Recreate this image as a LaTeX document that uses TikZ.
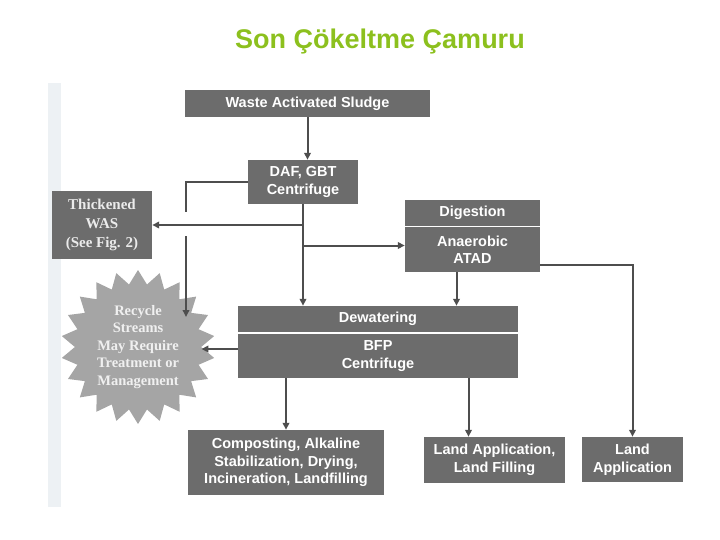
\documentclass[tikz,border=0pt]{standalone}
\usepackage{fontspec}
\setmainfont{Liberation Serif}
\setsansfont{Liberation Sans}
\usepackage{tikz}
\usetikzlibrary{calc,shapes,arrows.meta,positioning}
\definecolor{boxgray}{RGB}{108,108,108}
\definecolor{stargray}{RGB}{165,165,165}
\definecolor{linegray}{RGB}{78,78,78}
\definecolor{titlegreen}{RGB}{140,192,30}
\definecolor{scanstrip}{RGB}{237,241,244}
\tikzset{%
    box/.style={%
        rectangle, fill=boxgray, text=white, align=center, inner sep=0pt,
        font=\sffamily\bfseries\fontsize{14.5}{17.5}\selectfont
    },
    serifbox/.style={%
        rectangle, fill=boxgray, text=white!92!black, align=center, inner sep=0pt,
        font=\rmfamily\bfseries\fontsize{15}{19}\selectfont
    },
    burst/.style={%
        star, star points=22, star point ratio=1.22, fill=stargray, minimum size=154pt,
        inner sep=0pt, text=white!94!black, align=center,
        font=\rmfamily\bfseries\fontsize{14.5}{17.5}\selectfont
    },
    link/.style={%
        draw=linegray, line width=2pt
    },
    flow/.style={%
        draw=linegray, line width=2pt, -{Triangle[length=7pt,width=6.5pt]}
    },
}
\begin{document}
\begin{tikzpicture}[x=1pt,y=-1pt]

    \useasboundingbox (0,0) rectangle (720,540);
    \fill[scanstrip] (48,83) rectangle (61,507);

    \node[text=titlegreen, font=\sffamily\bfseries\fontsize{27}{32}\selectfont] (title) at (380,42) {Son Çökeltme Çamuru};

    \node[box, minimum width=245pt, minimum height=27pt] (was) at (307.5,103.5) {Waste Activated Sludge};
    \node[box, minimum width=110pt, minimum height=44pt] (daf) at (303,182) {DAF, GBT\\Centrifuge};
    \node[serifbox, minimum width=100pt, minimum height=68pt] (thick) at (102,225) {Thickened\\WAS\\(See Fig. 2)};

    \begin{scope}
      \node[box, minimum width=135pt, minimum height=26pt] (dig) at (472.5,213) {Digestion};
      \node[box, minimum width=135pt, minimum height=45pt] (digsub) at (472.5,249.5) {Anaerobic\\ATAD};
    \end{scope}

    \node[burst] (recycle) at (138,347) {Recycle\\Streams\\May Require\\Treatment or\\Management};

    \begin{scope}
      \node[box, minimum width=280pt, minimum height=26pt] (dew) at (378,319) {Dewatering};
      \node[box, minimum width=280pt, minimum height=44pt] (dewsub) at (378,356) {BFP\\Centrifuge};
    \end{scope}

    \node[box, minimum width=196pt, minimum height=65pt] (comp) at (286,462.5) {Composting, Alkaline\\Stabilization, Drying,\\Incineration, Landfilling};
    \node[box, minimum width=141pt, minimum height=46pt] (landfill) at (494.5,460) {Land Application,\\Land Filling};
    \node[box, minimum width=101pt, minimum height=45pt] (land) at (632.5,459.5) {Land\\Application};

    \coordinate (jumpa) at (186,212);
    \coordinate (jumpb) at (186,236);
    \coordinate (recyin) at (186,317);
    \coordinate (digin) at ([yshift=4pt]digsub.west);
    \coordinate (digout) at ([yshift=-15pt]digsub.east);
    \coordinate (dewout) at ([yshift=7pt]dewsub.west);

    \draw[flow] (was.south) -- (was.south |- daf.north);
    \draw[link] (daf.west) -| (jumpa);
    \draw[flow] (jumpb) -- (recyin);
    \draw[flow] (daf.south) -- (daf.south |- dew.north);
    \draw[flow] (daf.south |- thick.east) -- (thick.east);
    \draw[flow] (daf.south |- digin) -- (digin);
    \draw[flow] ([xshift=-16pt]digsub.south) -- ([xshift=-16pt]digsub.south |- dew.north);
    \draw[flow] (digout) -| (land.north);
    \draw[flow] (dewout) -- (dewout -| recycle.east);
    \draw[flow] (comp.north |- dewsub.south) -- (comp.north);
    \draw[flow] ([xshift=-26pt]landfill.north |- dewsub.south) -- ([xshift=-26pt]landfill.north);

  \end{tikzpicture}
\end{document}
